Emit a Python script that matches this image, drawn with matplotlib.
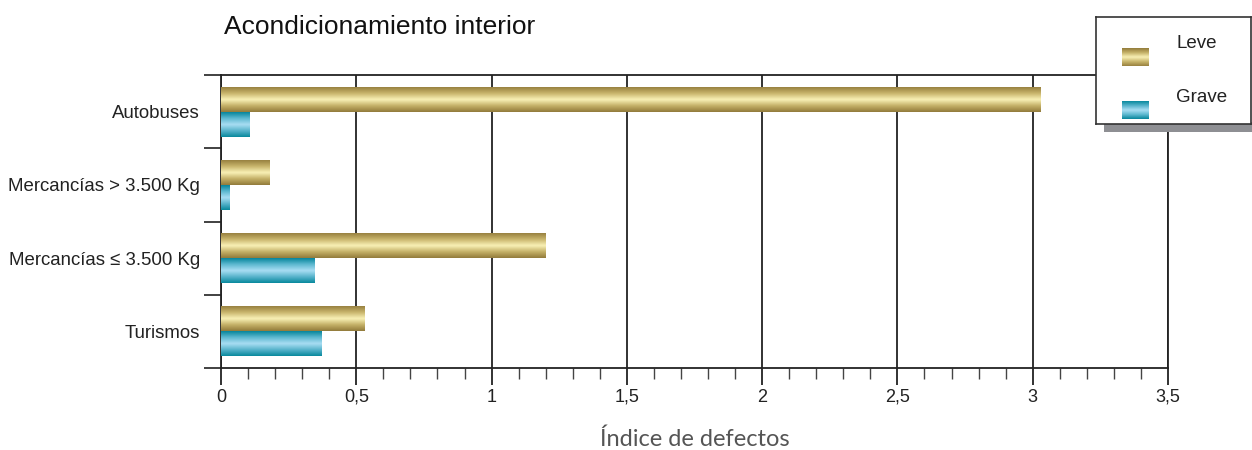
import matplotlib.pyplot as plt
import numpy as np
from matplotlib.colors import LinearSegmentedColormap
from matplotlib.patches import Rectangle
from matplotlib.ticker import MultipleLocator, FixedLocator, FuncFormatter

plt.rcParams['font.family'] = ['Liberation Sans', 'DejaVu Sans']

categorias = ['Turismos', 'Mercancías ≤ 3.500 Kg', 'Mercancías > 3.500 Kg', 'Autobuses']
leve = [0.53, 1.20, 0.18, 3.03]
grave = [0.37, 0.345, 0.033, 0.107]

gold = LinearSegmentedColormap.from_list('gold', ['#97803f', '#c9b56c', '#f9f1b6', '#c4b067', '#917a3a'])
teal = LinearSegmentedColormap.from_list('teal', ['#05849a', '#5db8d0', '#a9def3', '#57b3cb', '#07889c'])
grad = np.linspace(0, 1, 256).reshape(-1, 1)

fig = plt.figure(figsize=(12.52, 4.5), dpi=100)
ax = fig.add_axes([221 / 1252, 1 - 368 / 450, 947 / 1252, 293 / 450])

y = np.arange(len(categorias))
h = 0.34
b1 = ax.barh(y + h / 2, leve, height=h, color='none', edgecolor='none', zorder=3)
b2 = ax.barh(y - h / 2, grave, height=h, color='none', edgecolor='none', zorder=3)


def pintar(barras, cmap):
    for r in barras:
        x0, y0 = r.get_x(), r.get_y()
        im = ax.imshow(grad, cmap=cmap, aspect='auto', interpolation='bicubic',
                       extent=[x0, x0 + r.get_width(), y0, y0 + r.get_height()], zorder=3)
        im.set_clip_path(r)


pintar(b1, gold)
pintar(b2, teal)

ax.set_xlim(0, 3.5)
ax.set_ylim(-0.5, 3.5)
ax.set_aspect('auto')

ax.xaxis.set_major_locator(MultipleLocator(0.5))
ax.xaxis.set_minor_locator(MultipleLocator(0.1))
ax.xaxis.set_major_formatter(FuncFormatter(lambda v, p: ('%g' % v).replace('.', ',')))
ax.grid(axis='x', which='major', color='#222222', linewidth=1.3, zorder=1)
ax.tick_params(axis='x', which='major', length=12, width=1.3, color='#222222',
               labelsize=13, pad=3, labelcolor='#222222')
ax.tick_params(axis='x', which='minor', length=8, width=1.0, color='#444444')

ax.yaxis.set_major_locator(FixedLocator([-0.5, 0.5, 1.5, 2.5, 3.5]))
ax.yaxis.set_major_formatter(FuncFormatter(lambda v, p: ''))
ax.yaxis.set_minor_locator(FixedLocator(y))
ax.set_yticklabels(categorias, minor=True)
ax.tick_params(axis='y', which='major', length=12, width=1.3, color='#333333')
ax.tick_params(axis='y', which='minor', length=0, labelsize=13.4, pad=15, labelcolor='#222222')

for s in ax.spines.values():
    s.set_color('#222222')
    s.set_linewidth(1.3)

fig.text(695 / 1252, 1 - 439 / 450, 'Índice de defectos', family=['Lato', 'DejaVu Sans'],
         fontsize=17, color='#555555', ha='center', va='center')
fig.text(224 / 1252, 1 - 27 / 450, 'Acondicionamiento interior', fontsize=19,
         va='center', ha='left', color='#111111')

# leyenda
fig.patches.append(Rectangle((1104 / 1252, 1 - 132 / 450), 148 / 1252, 10 / 450,
                             transform=fig.transFigure, facecolor='#8e8f93',
                             edgecolor='none', zorder=5))
lg = fig.add_axes([1096 / 1252, 1 - 124 / 450, 155 / 1252, 107 / 450], zorder=6)
lg.set_xlim(0, 155)
lg.set_ylim(107, 0)
lg.set_xticks([])
lg.set_yticks([])
for s in lg.spines.values():
    s.set_color('#333333')
    s.set_linewidth(1.2)
lg.imshow(grad, cmap=gold, aspect='auto', extent=[26, 53, 31, 49], interpolation='bicubic')
lg.imshow(grad, cmap=teal, aspect='auto', extent=[26, 53, 84, 102], interpolation='bicubic')
lg.set_xlim(0, 155)
lg.set_ylim(107, 0)
lg.text(80, 27, 'Leve', fontsize=13.5, va='center', color='#222222')
lg.text(80, 81, 'Grave', fontsize=13.5, va='center', color='#222222')

fig.savefig('out.png', dpi=100)
